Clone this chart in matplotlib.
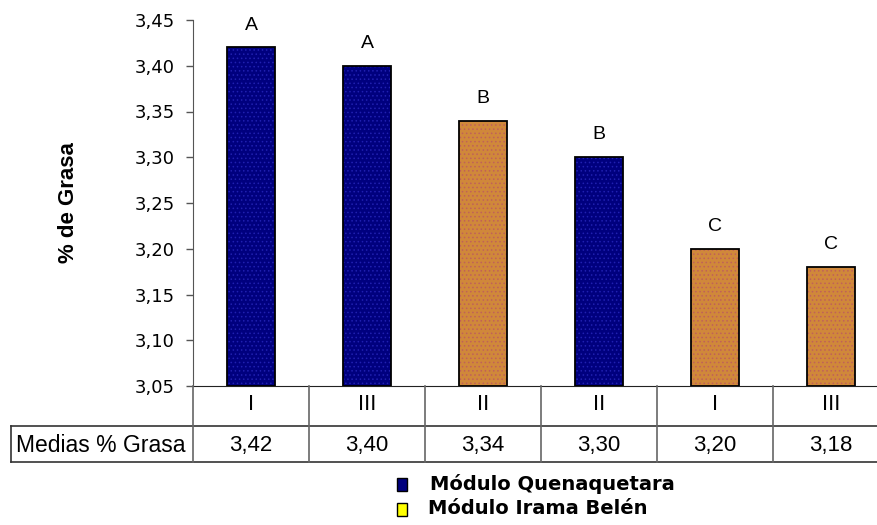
import matplotlib
matplotlib.use("Agg")
import matplotlib.pyplot as plt
from matplotlib.patches import Rectangle
from matplotlib.lines import Line2D

plt.rcParams['font.family'] = ['DejaVu Sans']
ARIAL = ['Liberation Sans', 'DejaVu Sans']

# Data
grupos = ["I", "III", "II", "II", "I", "III"]
medias = [3.42, 3.40, 3.34, 3.30, 3.20, 3.18]
medias_txt = ["3,42", "3,40", "3,34", "3,30", "3,20", "3,18"]
letras = ["A", "A", "B", "B", "C", "C"]
modulo = ["Q", "Q", "I", "Q", "I", "I"]
yticks = [3.05, 3.10, 3.15, 3.20, 3.25, 3.30, 3.35, 3.40, 3.45]
ytick_labels = ["3,05", "3,10", "3,15", "3,20", "3,25", "3,30", "3,35", "3,40", "3,45"]
serie_q = "Módulo Quenaquetara"
serie_i = "Módulo Irama Belén"

W, H = 878, 525
fig = plt.figure(figsize=(W / 100, H / 100), dpi=100)

# axes in pixel geometry
x0, x1 = 193, 889
y_top, y_bot = 20, 386
ax = fig.add_axes([x0 / W, 1 - y_bot / H, (x1 - x0) / W, (y_bot - y_top) / H])

fill = {"Q": "#00007e", "I": "#d0883a"}
dots = {"Q": "#2020b0", "I": "#c0605a"}
plt.rcParams['hatch.linewidth'] = 0.6

xs = list(range(len(medias)))
base = 3.05
for x, v, m in zip(xs, medias, modulo):
    ax.bar(x, v - base, bottom=base, width=0.41, color=fill[m], edgecolor="none", zorder=2)
    ax.bar(x, v - base, bottom=base, width=0.41, color="none", edgecolor=dots[m],
           hatch="....", linewidth=0, zorder=3)
    ax.bar(x, v - base, bottom=base, width=0.41, color="none", edgecolor="black",
           linewidth=1.3, zorder=4)

for x, v, l in zip(xs, medias, letras):
    ax.annotate(l, (x, v), xytext=(0, 10), textcoords="offset points",
                ha="center", va="bottom", fontsize=14, family=ARIAL)

ax.set_xlim(-0.5, len(medias) - 0.5)
ax.set_ylim(3.05, 3.45)
ax.set_yticks(yticks)
ax.set_yticklabels(ytick_labels, fontsize=13)
ax.tick_params(axis="y", direction="out", length=5, width=1, color="#555555", pad=8)
ax.set_xticks([])
for s in ("top", "right"):
    ax.spines[s].set_visible(False)
ax.spines["left"].set_color("#555555")
ax.spines["bottom"].set_color("#222222")


def px(x, y):
    return x / W, 1 - y / H


fig.text(*px(68, 203), "% de Grasa", rotation=90, ha="center", va="center",
         fontsize=16, fontweight="bold", family=ARIAL)

# data table below the axes
lc = "#333333"
cat_w = (x1 - x0) / len(medias)
r1, r2, r3 = 386, 426, 462
for yy in (r2, r3):
    fig.add_artist(Line2D([11 / W, 1.0], [1 - yy / H] * 2, color=lc, lw=1.2))
for i in range(len(medias) + 1):
    xx = x0 + i * cat_w
    fig.add_artist(Line2D([xx / W] * 2, [1 - r1 / H, 1 - r3 / H], color="#666666", lw=1.2))
fig.add_artist(Line2D([11 / W] * 2, [1 - r2 / H, 1 - r3 / H], color=lc, lw=1.2))

for i, (g, t) in enumerate(zip(grupos, medias_txt)):
    cx = x0 + (i + 0.5) * cat_w
    fig.text(*px(cx, 405), g, ha="center", va="center", fontsize=16, family=ARIAL)
    fig.text(*px(cx, 445), t, ha="center", va="center", fontsize=16, family=ARIAL)
fig.text(*px(16, 445), "Medias % Grasa", ha="left", va="center", fontsize=16.5, family=ARIAL)

# legend
for (yc, sx, col, lab) in ((484, 430, fill["Q"], serie_q), (509, 428, "#ffff00", serie_i)):
    fig.add_artist(Rectangle(px(397, yc + 7), 10 / W, 13 / H, facecolor=col,
                             edgecolor="black", lw=1.0))
    fig.text(*px(sx, yc), lab, ha="left", va="center", fontsize=14, fontweight="bold")

fig.savefig("out.png", dpi=100)
